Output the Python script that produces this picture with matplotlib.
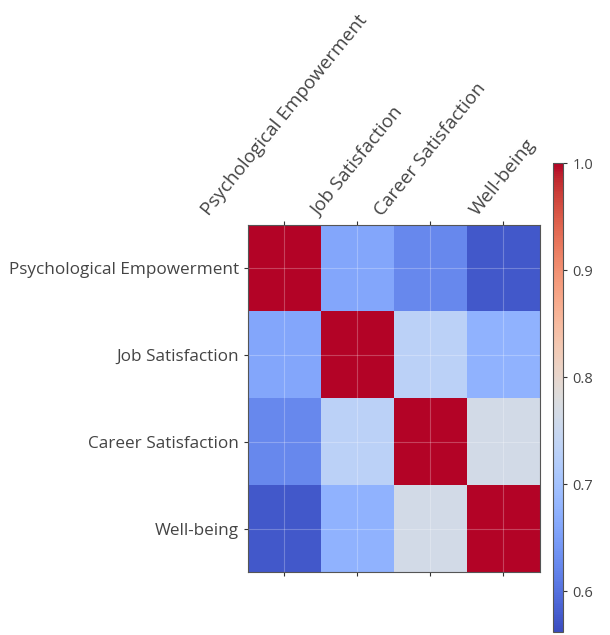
import matplotlib.pyplot as plt
import numpy as np

plt.rcParams['font.family'] = ['Open Sans', 'DejaVu Sans']

labels = ['Psychological Empowerment', 'Job Satisfaction', 'Career Satisfaction', 'Well-being']

# correlation matrix between the four scales
corr = np.array([
    [1.000, 0.660, 0.625, 0.575],
    [0.660, 1.000, 0.730, 0.675],
    [0.625, 0.730, 1.000, 0.765],
    [0.575, 0.675, 0.765, 1.000],
])

fig = plt.figure(figsize=(6.1, 6.35), dpi=100)
ax = fig.add_axes([0.4066, 0.099, 0.478, 0.547])
cax = fig.add_axes([0.9066, 0.005, 0.017, 0.738])

im = ax.matshow(corr, cmap='coolwarm', vmin=0.562, vmax=1.0, aspect='auto')

ax.set_xticks(range(len(labels)))
ax.set_yticks(range(len(labels)))
ax.set_xticklabels(labels, rotation=51, ha='center', fontsize=13.6, color='#444444')
ax.set_yticklabels(labels, fontsize=12.3, color='#444444')
ax.tick_params(axis='both', length=3, width=0.8, colors='#333333', labelcolor='#444444')
ax.tick_params(axis='x', bottom=True, labelbottom=False, pad=1)
ax.grid(True, color='white', alpha=0.25, linewidth=0.8)
for s in ax.spines.values():
    s.set_color('#555555')
    s.set_linewidth(0.8)

cb = fig.colorbar(im, cax=cax)
cb.set_ticks([0.6, 0.7, 0.8, 0.9, 1.0])
cb.ax.tick_params(labelsize=10.5, length=3, colors='#333333', labelcolor='#444444')
cb.outline.set_edgecolor('#555555')

fig.savefig('out.png', dpi=100)
